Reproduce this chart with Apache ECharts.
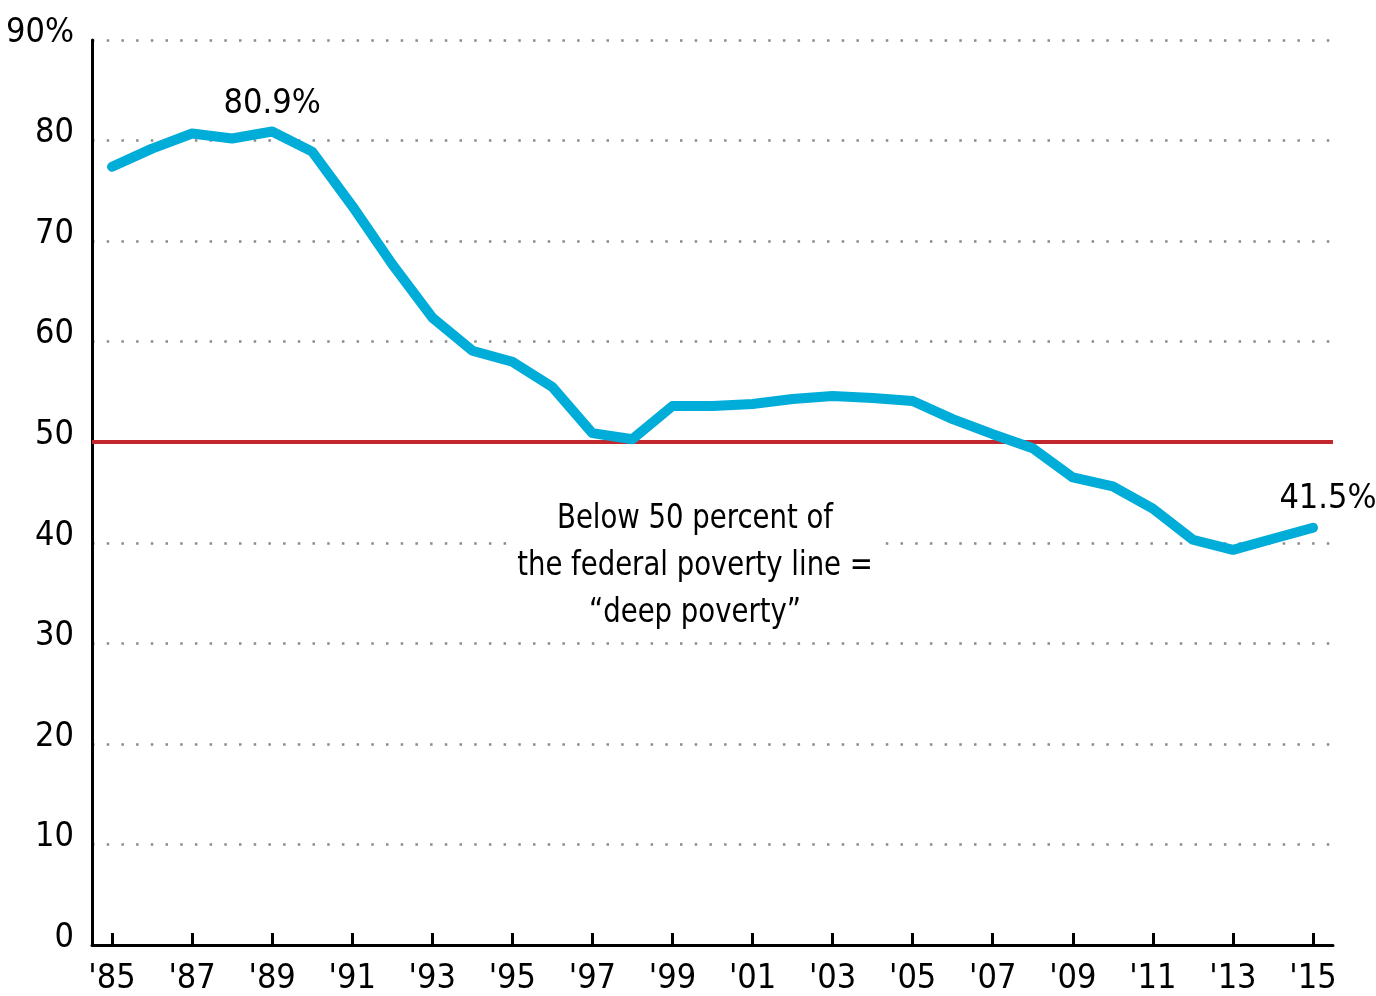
<!DOCTYPE html>
<html>
<head>
<meta charset="utf-8">
<script src="https://cdn.jsdelivr.net/npm/echarts@6/dist/echarts.min.js"></script>
<style>
  html, body { margin: 0; padding: 0; background: #fff; }
  #chart { width: 1376px; height: 996px; }
</style>
</head>
<body>
<div id="chart"></div>
<script>
// deep poverty share, 1985-2015
const years = ["'85", "'86", "'87", "'88", "'89", "'90", "'91", "'92", "'93", "'94",
  "'95", "'96", "'97", "'98", "'99", "'00", "'01", "'02", "'03", "'04",
  "'05", "'06", "'07", "'08", "'09", "'10", "'11", "'12", "'13", "'14", "'15"];
const share = [77.4, 79.2, 80.7, 80.2, 80.9, 78.9, 73.5, 67.7, 62.4, 59.1,
  58.0, 55.5, 50.9, 50.3, 53.6, 53.6, 53.8, 54.3, 54.6, 54.4,
  54.1, 52.3, 50.8, 49.4, 46.5, 45.6, 43.4, 40.3, 39.3, 40.4, 41.5];
const threshold = 50;
const noteLines = ['Below 50 percent of', 'the federal poverty line =', '\u201Cdeep poverty\u201D'];

const FONT = "'DejaVu Sans Condensed', 'Liberation Sans Narrow', 'Roboto', sans-serif";
const lastIdx = share.length - 1;
const peakIdx = share.indexOf(Math.max(...share));

const chart = echarts.init(document.getElementById('chart'), null, { renderer: 'canvas' });

const seriesData = share.map((v, i) => {
  if (i === peakIdx) {
    return { value: v, label: { show: true, position: 'top', distance: 10, formatter: v.toFixed(1) + '%' } };
  }
  if (i === lastIdx) {
    return { value: v, label: { show: true, position: 'top', distance: 12, offset: [15, 0], formatter: v.toFixed(1) + '%' } };
  }
  return v;
});

chart.setOption({
  animation: false,
  textStyle: { fontFamily: FONT },
  grid: { left: 92, right: 43, top: 40, bottom: 48, containLabel: false },
  xAxis: {
    type: 'category',
    data: years,
    boundaryGap: true,
    axisLine: { lineStyle: { color: '#000', width: 3 } },
    axisTick: { show: true, inside: true, length: 12, alignWithLabel: true, lineStyle: { color: '#000', width: 3 } },
    axisLabel: { interval: 1, color: '#000', fontSize: 34, fontFamily: FONT, margin: 17 }
  },
  yAxis: {
    type: 'value',
    min: 0,
    max: 90,
    interval: 10,
    axisLine: { show: true, lineStyle: { color: '#000', width: 3 } },
    axisTick: { show: false },
    axisLabel: {
      color: '#000', fontSize: 34, fontFamily: FONT, margin: 18,
      verticalAlign: 'bottom',
      lineHeight: 14,
      formatter: v => v === 90 ? '90%' : String(v)
    },
    splitLine: { show: true, lineStyle: { color: '#8a8a8a', width: 2.5, type: [2.5, 12.2] } }
  },
  graphic: [{
    type: 'text',
    z: 100,
    x: 695,
    y: 496,
    scaleX: 0.9,
    style: {
      text: noteLines.join('\n'),
      font: '34px ' + FONT,
      fill: '#000',
      align: 'center',
      verticalAlign: 'top',
      lineHeight: 47,
      backgroundColor: '#fff',
      padding: [0, 6, 0, 6]
    }
  }],
  series: [{
    type: 'line',
    data: seriesData,
    symbol: 'circle',
    symbolSize: 0,
    showSymbol: true,
    z: 5,
    lineStyle: { color: '#00acd8', width: 10, cap: 'round', join: 'round' },
    label: { color: '#000', fontSize: 34, fontFamily: FONT },
    markLine: {
      silent: true,
      symbol: 'none',
      label: { show: false },
      lineStyle: { color: '#c1272d', width: 4, type: 'solid' },
      data: [{ yAxis: threshold }]
    }
  }]
});
</script>
</body>
</html>
